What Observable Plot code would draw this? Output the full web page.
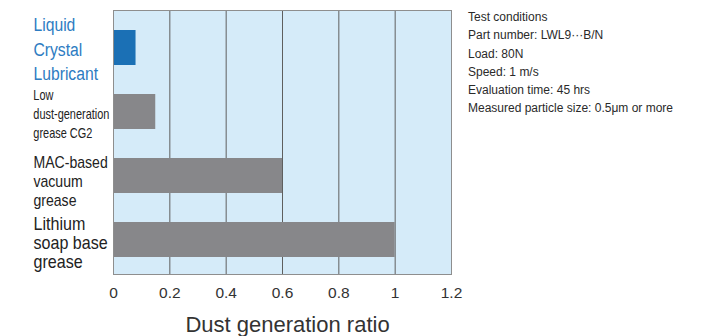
<!DOCTYPE html>
<html>
<head>
<meta charset="utf-8">
<script src="https://cdn.jsdelivr.net/npm/d3@7"></script>
<script src="https://cdn.jsdelivr.net/npm/@observablehq/plot@0.6"></script>
<style>
  html, body { margin: 0; padding: 0; background: #fff; }
  #wrap { position: relative; width: 710px; height: 336px; overflow: hidden; }
  #cond { position: absolute; left: 468px; top: 8px; font-family: "Liberation Sans", Arial, sans-serif;
          font-size: 12px; line-height: 18.3px; color: #2a2a2a; white-space: nowrap; }
</style>
</head>
<body>
<div id="wrap"><div id="cond"></div></div>
<script>
const categories = ["Liquid Crystal Lubricant", "Low dust-generation grease CG2", "MAC-based vacuum grease", "Lithium soap base grease"];
const labelLines = [["Liquid", "Crystal", "Lubricant"], ["Low", "dust-generation", "grease CG2"], ["MAC-based", "vacuum", "grease"], ["Lithium", "soap base", "grease"]];
const values = [0.08, 0.15, 0.6, 1.0];
const xTicks = [0, 0.2, 0.4, 0.6, 0.8, 1.0, 1.2];
const xLabel = "Dust generation ratio";
const conditions = ["Test conditions", "Part number: LWL9\u00B7\u00B7\u00B7B/N", "Load: 80N", "Speed: 1 m/s", "Evaluation time: 45 hrs", "Measured particle size: 0.5\u03BCm or more"];

const data = categories.map((c, i) => ({name: c, value: values[i], highlight: i === 0}));

// label styles (presentation only): condensed look via horizontal scale
const labelStyle = [
  {fontSize: 18.5, lineHeight: 1.32, fill: "#2d7cc2", dy: 0, sx: 0.85},
  {fontSize: 15, lineHeight: 1.25, fill: "#222", dy: 1, sx: 0.73},
  {fontSize: 16, lineHeight: 1.17, fill: "#222", dy: 5, sx: 0.88},
  {fontSize: 17.5, lineHeight: 1.07, fill: "#222", dy: 3, sx: 0.92}
];
const labelX = 33;

const labelMarks = categories.map((c, i) => Plot.text([c], {
  y: d => d,
  text: () => labelLines[i].join("\n"),
  frameAnchor: "left",
  textAnchor: "start",
  dx: -80,
  dy: labelStyle[i].dy,
  fontSize: labelStyle[i].fontSize,
  lineHeight: labelStyle[i].lineHeight,
  fill: labelStyle[i].fill
}));

const chart = Plot.plot({
  width: 710,
  height: 336,
  marginLeft: 113,
  marginRight: 259,
  marginTop: 10,
  marginBottom: 62,
  style: {fontFamily: "'Liberation Sans', Arial, sans-serif", background: "transparent", overflow: "visible"},
  x: {domain: [0, 1.2], axis: null},
  y: {domain: categories, paddingInner: 0.455, paddingOuter: 0.282, align: 0.55, axis: null},
  marks: [
    Plot.frame({fill: "#d5ebf9", stroke: null}),
    Plot.ruleX(xTicks.filter(t => t > 0 && t < 1.2), {stroke: "#5f5f5f", strokeWidth: 1}),
    Plot.barX(data, {x1: 0, x2: "value", y: "name", fill: d => d.highlight ? "#1b70b5" : "#87878a"}),
    Plot.frame({stroke: "#8e8e8e", strokeWidth: 1}),
    Plot.axisX({ticks: xTicks, tickSize: 0, tickPadding: 12, fontSize: 15.5, fill: "#333", label: null,
                tickFormat: d => String(+d.toFixed(1))}),
    Plot.text([xLabel], {frameAnchor: "bottom", dy: 57, dx: 5, fontSize: 22, fill: "#333", lineAnchor: "bottom"}),
    ...labelMarks
  ]
});
// condense the category labels horizontally (anchored at their left edge)
const texts = Array.from(chart.querySelectorAll("text"));
labelStyle.forEach((s, i) => {
  const el = texts.find(t => {
    const first = t.querySelector("tspan");
    return first && first.textContent === labelLines[i][0];
  });
  if (!el) return;
  const g = el.parentNode;
  const t = g.getAttribute("transform") || "";
  g.setAttribute("transform", `translate(${labelX},0) scale(${s.sx},1) translate(${-labelX},0) ${t}`);
});
document.getElementById("wrap").prepend(chart);
document.getElementById("cond").innerHTML = conditions.map(s => `<div>${s}</div>`).join("");
</script>
</body>
</html>
